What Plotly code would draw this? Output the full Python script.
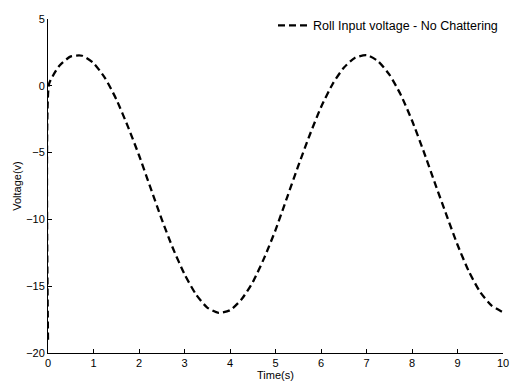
import plotly.graph_objects as go

# Roll input voltage (no chattering) sampled over 10 s
time_s = [0.0, 0.02, 0.1, 0.25, 0.5, 0.75, 1.0, 1.25, 1.5, 1.75, 2.0, 2.25, 2.5,
          2.75, 3.0, 3.25, 3.5, 3.75, 4.0, 4.25, 4.5, 4.75, 5.0, 5.25, 5.5,
          5.75, 6.0, 6.25, 6.5, 6.75, 7.0, 7.25, 7.5, 7.75, 8.0, 8.25, 8.5,
          8.75, 9.0, 9.25, 9.5, 9.75, 10.0]
voltage_v = [-19.0, 0.1, 0.7, 1.5, 2.2, 2.25, 1.7, 0.6, -1.0, -3.0, -5.2, -7.6,
             -10.0, -12.2, -14.1, -15.6, -16.6, -17.0, -16.8, -16.0, -14.7,
             -12.9, -10.8, -8.4, -6.0, -3.7, -1.6, 0.1, 1.35, 2.1, 2.3, 1.85,
             0.85, -0.65, -2.6, -4.85, -7.25, -9.6, -11.9, -13.9, -15.45,
             -16.45, -16.95]

x_ticks = [0, 1, 2, 3, 4, 5, 6, 7, 8, 9, 10]
y_ticks = [-20, -15, -10, -5, 0, 5]

fig = go.Figure()
fig.add_trace(go.Scatter(
    x=time_s, y=voltage_v, mode="lines",
    name="Roll Input voltage - No Chattering",
    line=dict(color="black", width=2.3, dash="7px,4px", shape="spline", smoothing=0.6),
))

axis_common = dict(
    showline=True, linecolor="black", linewidth=1,
    ticks="inside", ticklen=4, tickcolor="black",
    showgrid=False, zeroline=False, mirror=False,
    tickfont=dict(family="Liberation Sans, Arial, sans-serif", size=11, color="black"),
)

fig.update_layout(
    width=524, height=388,
    margin=dict(l=48, r=21, t=11, b=32),
    paper_bgcolor="white", plot_bgcolor="white",
    font=dict(family="Liberation Sans, Arial, sans-serif", size=11, color="black"),
    showlegend=True,
    legend=dict(x=1, y=1.025, xanchor="right", yanchor="top",
                bgcolor="rgba(0,0,0,0)", borderwidth=0,
                font=dict(size=12.5), itemwidth=30),
    xaxis=dict(range=[0, 10], tickvals=x_ticks,
               title=dict(text="Time(s)", standoff=0, font=dict(size=11)),
               **axis_common),
    yaxis=dict(range=[-20, 5], tickvals=y_ticks,
               title=dict(text="Voltage(v)", standoff=2, font=dict(size=11)),
               **axis_common),
)

fig.write_html("out.html")
